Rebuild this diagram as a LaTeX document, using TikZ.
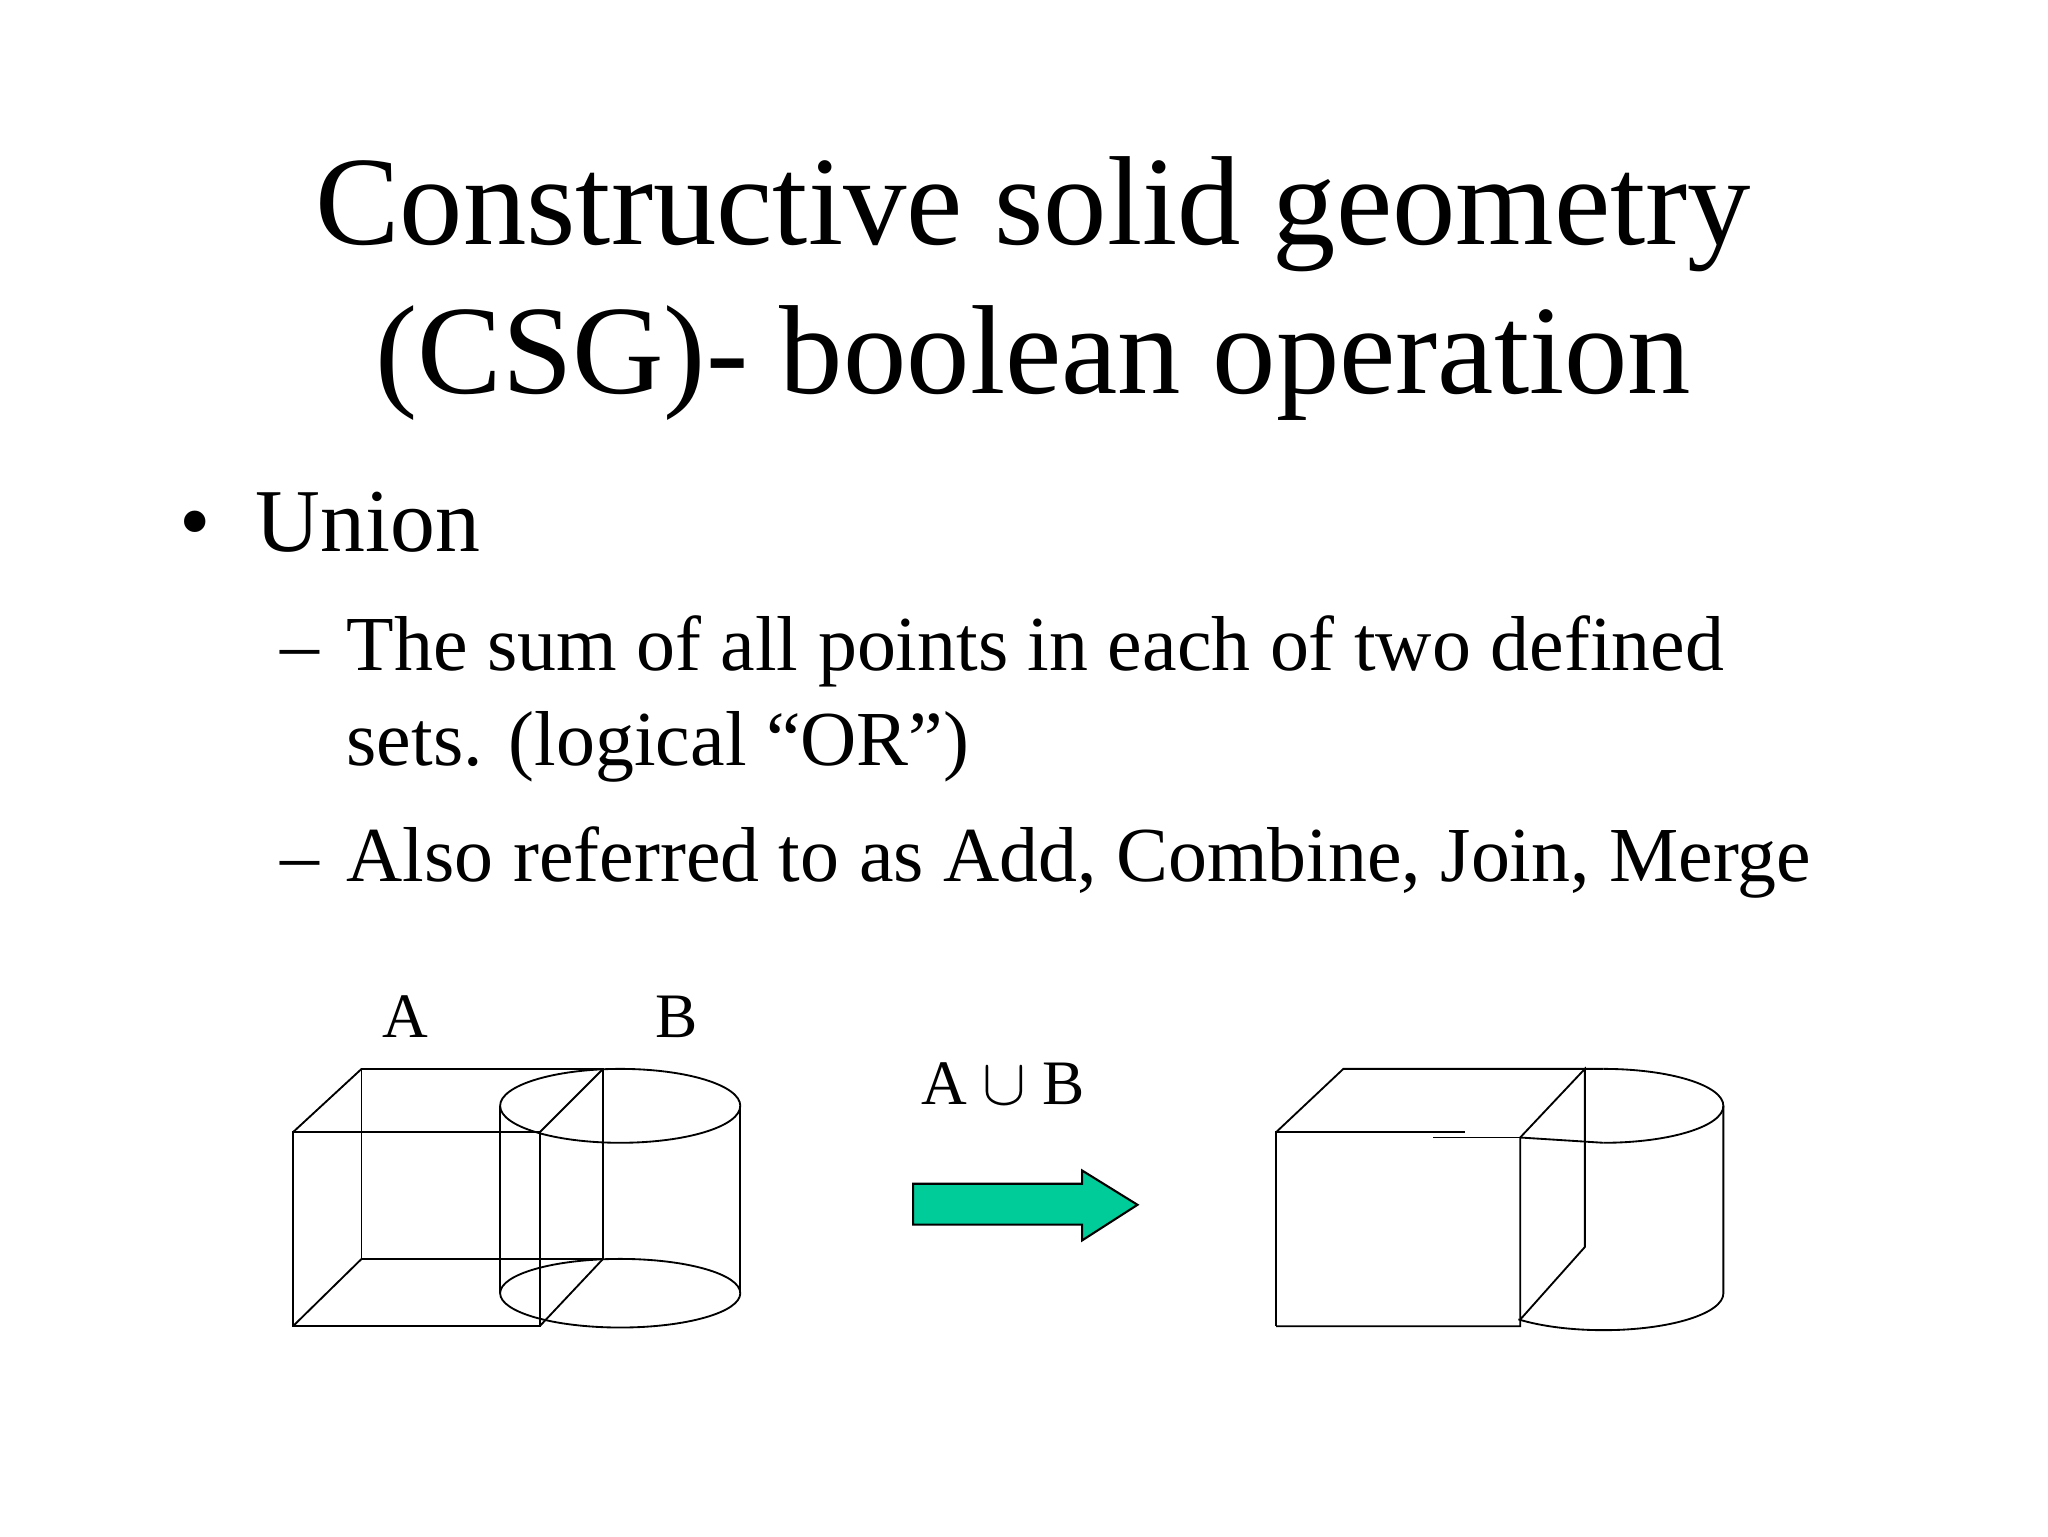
\documentclass[tikz,border=0pt]{standalone}
\usepackage{fontspec}
\setmainfont{Liberation Serif}
\definecolor{arr}{HTML}{00CC99}
\begin{document}
\begin{tikzpicture}[x=0.5pt,y=-0.5pt,line width=0.7pt,
  tx/.style={inner sep=0,anchor=base west}]
\useasboundingbox (0,0) rectangle (1552,1164);
\node[inner sep=0,anchor=base] (t1) at (783,185) {\fontsize{48}{58}\selectfont Constructive solid geometry};
\node[inner sep=0,anchor=base] (t2) at (783,298) {\fontsize{48}{58}\selectfont (CSG)- boolean operation};
\node[tx] (b0) at (135,418) {\fontsize{34}{42}\selectfont •};
\node[tx] (b1) at (193,418) {\fontsize{34}{42}\selectfont Union};
\node[tx] (d1) at (212,508) {\fontsize{29.5}{36}\selectfont –};
\node[tx] (s1) at (262,508) {\fontsize{29.5}{36}\selectfont The sum of all points in each of two defined};
\node[tx] (s2) at (262,580) {\fontsize{29.5}{36}\selectfont sets. (logical “OR”)};
\node[tx] (d2) at (212,668) {\fontsize{29.5}{36}\selectfont –};
\node[tx] (s3) at (262,668) {\fontsize{29.5}{36}\selectfont Also referred to as Add, Combine, Join, Merge};
\node[inner sep=0,anchor=base] (la) at (307,786) {\fontsize{24}{28}\selectfont A};
\node[inner sep=0,anchor=base] (lb) at (513,786) {\fontsize{24}{28}\selectfont B};
\node[inner sep=0,anchor=base] (lu) at (760,837) {\fontsize{24}{28}\selectfont A $\cup$ B};
% box A
\draw (222,858) rectangle (409,1005);
\draw (274,810) rectangle (457,954);
\draw (222,858)--(274,810) (409,858)--(457,810) (222,1005)--(274,954) (409,1005)--(457,954);
% cylinder B
\draw (470,838) ellipse [x radius=91,y radius=28];
\draw (470,980) ellipse [x radius=91,y radius=26];
\draw (379,838)--(379,980) (561,838)--(561,980);
% arrow
\draw[fill=arr,line width=0.8pt] (692,897)--(820,897)--(820,887)--(862,913)--(820,940)--(820,928)--(692,928)--cycle;
% result
\draw (967,1005)--(967,858)--(1110,858) (1086,862)--(1152,862);
\draw (967,858)--(1018,810)--(1215,810);
\draw (967,1005)--(1152,1005)--(1152,862)--(1201,810)--(1201,945)--(1152,1000);
\draw (1152,862)--(1215,866);
\draw (1215,810) arc[start angle=-90,end angle=90,x radius=91,y radius=28];
\draw (1306,838)--(1306,980) arc[start angle=0,end angle=135,x radius=91,y radius=28];
\end{tikzpicture}
\end{document}
